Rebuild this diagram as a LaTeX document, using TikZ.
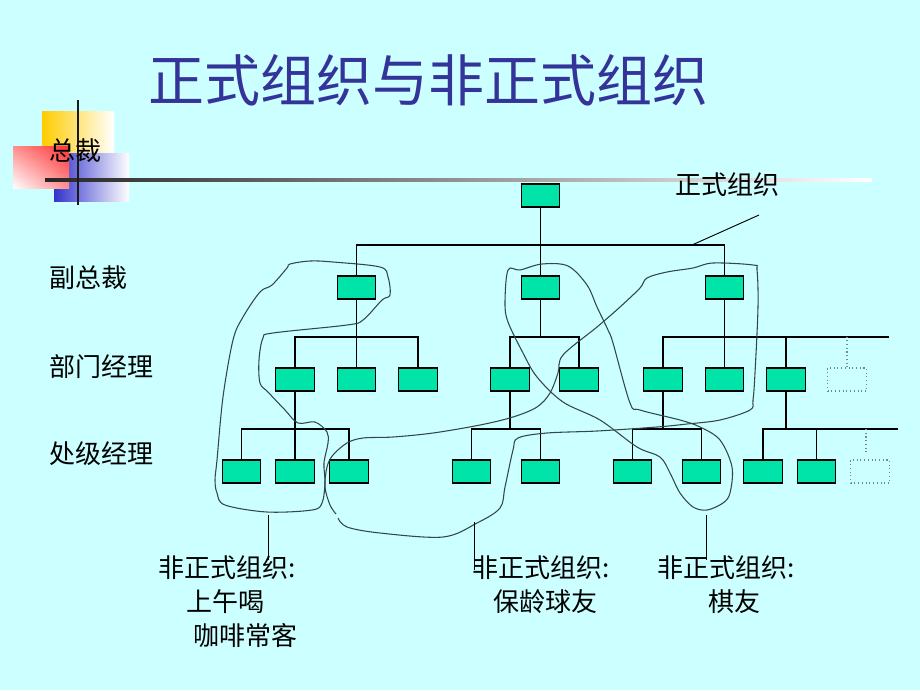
\documentclass[tikz,border=0pt]{standalone}
\usepackage{fontspec}
\usetikzlibrary{shadings}
\setmainfont{Noto Sans CJK SC}
\definecolor{bg}{RGB}{204,255,255}
\definecolor{boxfill}{RGB}{0,228,170}
\definecolor{titleblue}{RGB}{51,51,153}
\definecolor{curvecol}{RGB}{50,72,72}
\definecolor{dotgray}{RGB}{110,140,140}
\definecolor{ygold}{RGB}{255,204,0}
\definecolor{dblue}{RGB}{51,51,204}
\definecolor{rred}{RGB}{255,51,51}
\begin{document}
\begin{tikzpicture}[x=0.75pt,y=-0.75pt,
  box/.style={draw=black,line width=0.85pt,fill=boxfill,minimum width=29pt,minimum height=17.25pt,inner sep=0pt},
  ghost/.style={draw=dotgray,dotted,line width=0.8pt,minimum width=29pt,minimum height=17.25pt,inner sep=0pt},
  tree/.style={line width=0.8pt,black},
  ghostline/.style={draw=dotgray,dotted,line width=0.8pt},
  freehand/.style={draw=curvecol,line width=0.8pt},
  lbl/.style={inner sep=0pt,anchor=west,font=\fontsize{19.5}{22}\selectfont,text=black},
  leader/.style={line width=0.7pt,black}]
\fill[bg] (0,0) rectangle (920,690);
\useasboundingbox (0,0) rectangle (920,690);

% decoration
\shade[left color=ygold,middle color=ygold,right color=white] (42,111) rectangle (114,175);
\shade[left color=dblue,middle color=dblue,right color=white] (54,153) rectangle (129,201);
\shade[upper left=rred!55!white,upper right=rred,lower left=white,lower right=rred!55!white] (13,146) rectangle (69,188);
\shade[left color=black!85,right color=white] (45,178.5) rectangle (872,181.5);
\draw[line width=2pt,black!90] (78,100) -- (78,205);
\node[lbl] (ceo) at (49,151) {总裁};

% title
\node[inner sep=0pt,text=titleblue,font=\fontsize{42}{47}\selectfont] (title) at (428.5,80) {正式组织与非正式组织};

% level labels
\node[lbl] (lvp) at (49,278) {副总裁};
\node[lbl] (ldept) at (49,367) {部门经理};
\node[lbl] (lsec) at (49,454) {处级经理};

% boxes
\node[box] (t) at (540.5,195.5) {};
\node[box] (v1) at (356.5,287.5) {};
\node[box] (v2) at (540.5,287.5) {};
\node[box] (v3) at (724.5,287.5) {};
\node[box] (d1) at (295,379.5) {};
\node[box] (d2) at (356.5,379.5) {};
\node[box] (d3) at (418,379.5) {};
\node[box] (d4) at (510,379.5) {};
\node[box] (d5) at (579,379.5) {};
\node[box] (d6) at (663,379.5) {};
\node[box] (d7) at (724.5,379.5) {};
\node[box] (d8) at (786,379.5) {};
\node[ghost] (d9) at (847,379.5) {};
\node[box] (s1) at (241.5,471.5) {};
\node[box] (s2) at (295,471.5) {};
\node[box] (s3) at (349,471.5) {};
\node[box] (s4) at (471.5,471.5) {};
\node[box] (s5) at (540.5,471.5) {};
\node[box] (s6) at (632.5,471.5) {};
\node[box] (s7) at (701.5,471.5) {};
\node[box] (s8) at (763,471.5) {};
\node[box] (s9) at (816.5,471.5) {};
\node[ghost] (s10) at (870,471.5) {};

% bus coordinates
\coordinate (b1) at (0,245);
\coordinate (b2) at (0,337);
\coordinate (b3) at (0,429);
\coordinate (b2end) at (889,337);
\coordinate (b3end) at (898,429);

% tree lines
\draw[tree] (t.south) -- (t.south |- b1);
\draw[tree] (v1.north) -- (v1.north |- b1) -- (v3.north |- b1) -- (v3.north);
\draw[tree] (v2.north) -- (v2.north |- b1);

\draw[tree] (v1.south) -- (v1.south |- b2);
\draw[tree] (d1.north) -- (d1.north |- b2) -- (d3.north |- b2) -- (d3.north);
\draw[tree] (d2.north) -- (d2.north |- b2);

\draw[tree] (v2.south) -- (v2.south |- b2);
\draw[tree] (d4.north) -- (d4.north |- b2) -- (d5.north |- b2) -- (d5.north);

\draw[tree] (v3.south) -- (v3.south |- b2);
\draw[tree] (d6.north) -- (d6.north |- b2) -- (b2end);
\draw[tree] (d7.north) -- (d7.north |- b2);
\draw[tree] (d8.north) -- (d8.north |- b2);
\draw[ghostline] (d9.north) -- (d9.north |- b2);

\draw[tree] (d1.south) -- (d1.south |- b3);
\draw[tree] (s1.north) -- (s1.north |- b3) -- (s3.north |- b3) -- (s3.north);
\draw[tree] (s2.north) -- (s2.north |- b3);

\draw[tree] (d4.south) -- (d4.south |- b3);
\draw[tree] (s4.north) -- (s4.north |- b3) -- (s5.north |- b3) -- (s5.north);

\draw[tree] (d6.south) -- (d6.south |- b3);
\draw[tree] (s6.north) -- (s6.north |- b3) -- (s7.north |- b3) -- (s7.north);

\draw[tree] (d8.south) -- (d8.south |- b3);
\draw[tree] (s8.north) -- (s8.north |- b3) -- (b3end);
\draw[tree] (s9.north) -- (s9.north |- b3);
\coordinate (s10top) at (866,453);
\draw[ghostline] (s10top |- b3) -- (s10top);

% formal label
\node[lbl] (formal) at (675,185) {正式组织};
\coordinate (fl1) at (759,215);
\coordinate (fl2) at (692,245);
\draw[leader] (fl1) -- (fl2);

% freehand curves
\draw[freehand] plot[smooth cycle,tension=0.55] coordinates {
 (290,264) (310,261) (333,262) (380,267) (388,277) (390,295) (382,300) (363,320)
 (347,325) (273,333) (263,338) (259,360) (260,383) (268,392) (285,410) (298,423)
 (315,422) (327,432) (328,443) (324,463) (325,483) (322,503) (312,510) (267,512)
 (225,505) (217,493) (215,480) (217,460) (223,397) (233,340) (243,317) (260,292)
 (272,285) (287,268)};

\draw[freehand] plot[smooth,tension=0.55] coordinates {
 (338,518) (347,527) (380,533) (443,537) (477,523) (500,508) (505,487) (513,450)
 (518,438) (547,433) (597,431) (657,427) (687,424) (720,420) (750,410) (753,400)
 (755,373) (758,307) (757,270) (753,265) (713,263) (693,268) (667,272) (647,278)
 (640,288) (620,307) (597,327) (563,355) (558,373) (550,393) (537,407) (513,417)
 (480,425) (433,433) (393,437) (363,438) (347,443) (333,455) (327,467) (325,487)
 (330,505) (336,514)};

\draw[freehand] plot[smooth cycle,tension=0.55] coordinates {
 (508,270) (520,270) (542,264) (568,266) (587,285) (597,307) (608,330) (613,343)
 (630,403) (640,410) (680,420) (700,427) (720,440) (732,467) (730,493) (723,503)
 (707,510) (693,507) (680,493) (670,473) (660,457) (637,447) (600,420) (563,402)
 (537,377) (523,353) (508,322) (505,303)};

% informal labels
\node[lbl] (inf1) at (158,568) {非正式组织:};
\node[lbl] (inf1b) at (186,602) {上午喝};
\node[lbl] (inf1c) at (193,636) {咖啡常客};
\node[lbl] (inf2) at (472,568) {非正式组织:};
\node[lbl] (inf2b) at (493,602) {保龄球友};
\node[lbl] (inf3) at (657,568) {非正式组织:};
\node[lbl] (inf3b) at (708,602) {棋友};

\coordinate (la1) at (268,515);
\coordinate (la2) at (268,560);
\coordinate (lb1) at (474,522);
\coordinate (lb2) at (474,570);
\coordinate (lc1) at (706,515);
\coordinate (lc2) at (706,560);
\draw[leader] (la1) -- (la2);
\draw[leader] (lb1) -- (lb2);
\draw[leader] (lc1) -- (lc2);
\end{tikzpicture}
\end{document}
